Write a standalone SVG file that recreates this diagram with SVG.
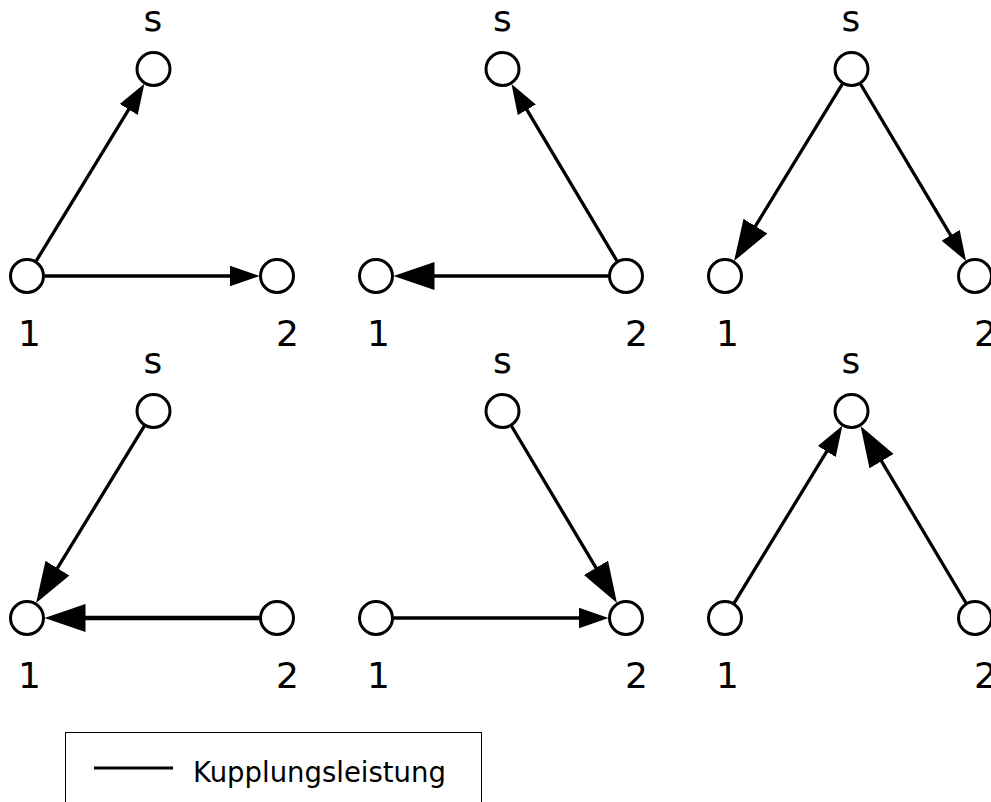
<svg xmlns="http://www.w3.org/2000/svg" width="991" height="802" viewBox="0 0 991 802">
<style>
.node circle{fill:#fff;stroke:#000;stroke-width:3}
.lbl{font-family:"DejaVu Sans","Liberation Sans",sans-serif;font-size:36px;fill:#000;text-anchor:middle}
.edge{stroke:#000;stroke-width:3.3;fill:none}
.sm{marker-end:url(#arrS)}
.lg{marker-end:url(#arrL)}
</style>
<defs>
<marker id="arrS" markerUnits="userSpaceOnUse" viewBox="0 -11 31 22" markerWidth="31" markerHeight="22" refX="3" refY="0" orient="auto"><path d="M0,-10.5 L30,0 L0,10.5 z" fill="#000"/></marker>
<marker id="arrL" markerUnits="userSpaceOnUse" viewBox="0 -14.5 42 29" markerWidth="42" markerHeight="29" refX="3" refY="0" orient="auto"><path d="M0,-14 L41,0 L0,14 z" fill="#000"/></marker>
</defs>
<rect width="991" height="802" fill="#fff"/>
<g id="connectors">
<line class="edge sm" x1="36.1" y1="261.1" x2="130.3" y2="106.9"/>
<line class="edge sm" x1="44.5" y1="276" x2="232.5" y2="276"/>
<line class="edge sm" x1="617" y1="261" x2="525.3" y2="107.2"/>
<line class="edge lg" x1="608.5" y1="276" x2="431.5" y2="276"/>
<line class="edge lg" x1="842.4" y1="83.9" x2="753.9" y2="228.7"/>
<line class="edge sm" x1="860.5" y1="84" x2="952.2" y2="237.8"/>
<line class="edge lg" x1="144.4" y1="425.9" x2="55.9" y2="570.7"/>
<line class="edge lg" x1="259.5" y1="618" x2="82.5" y2="618" style="stroke-width:4.5"/>
<line class="edge lg" x1="511.5" y1="426" x2="597.5" y2="570.4"/>
<line class="edge sm" x1="393.5" y1="618" x2="581.5" y2="618"/>
<line class="edge sm" x1="734.1" y1="603.1" x2="828.3" y2="448.9"/>
<line class="edge lg" x1="966" y1="603" x2="880" y2="458.6"/>
</g>
<g id="p1-s" class="node"><circle cx="153.5" cy="69" r="16.5"/><text class="lbl" x="153" y="31">s</text></g>
<g id="p1-1" class="node"><circle cx="27" cy="276" r="16.5"/><text class="lbl" x="29.5" y="346">1</text></g>
<g id="p1-2" class="node"><circle cx="277" cy="276" r="16.5"/><text class="lbl" x="287.5" y="346">2</text></g>
<g id="p2-s" class="node"><circle cx="502.5" cy="69" r="16.5"/><text class="lbl" x="502.5" y="31">s</text></g>
<g id="p2-1" class="node"><circle cx="376" cy="276" r="16.5"/><text class="lbl" x="378.5" y="346">1</text></g>
<g id="p2-2" class="node"><circle cx="626" cy="276" r="16.5"/><text class="lbl" x="636.5" y="346">2</text></g>
<g id="p3-s" class="node"><circle cx="851.5" cy="69" r="16.5"/><text class="lbl" x="851" y="31">s</text></g>
<g id="p3-1" class="node"><circle cx="725" cy="276" r="16.5"/><text class="lbl" x="727.5" y="346">1</text></g>
<g id="p3-2" class="node"><circle cx="975" cy="276" r="16.5"/><text class="lbl" x="985.5" y="346">2</text></g>
<g id="p4-s" class="node"><circle cx="153.5" cy="411" r="16.5"/><text class="lbl" x="153" y="373">s</text></g>
<g id="p4-1" class="node"><circle cx="27" cy="618" r="16.5"/><text class="lbl" x="29.5" y="688">1</text></g>
<g id="p4-2" class="node"><circle cx="277" cy="618" r="16.5"/><text class="lbl" x="287.5" y="688">2</text></g>
<g id="p5-s" class="node"><circle cx="502.5" cy="411" r="16.5"/><text class="lbl" x="502.5" y="373">s</text></g>
<g id="p5-1" class="node"><circle cx="376" cy="618" r="16.5"/><text class="lbl" x="378.5" y="688">1</text></g>
<g id="p5-2" class="node"><circle cx="626" cy="618" r="16.5"/><text class="lbl" x="636.5" y="688">2</text></g>
<g id="p6-s" class="node"><circle cx="851.5" cy="411" r="16.5"/><text class="lbl" x="851" y="373">s</text></g>
<g id="p6-1" class="node"><circle cx="725" cy="618" r="16.5"/><text class="lbl" x="727.5" y="688">1</text></g>
<g id="p6-2" class="node"><circle cx="975" cy="618" r="16.5"/><text class="lbl" x="985.5" y="688">2</text></g>
<g id="legend">
<rect x="65.5" y="732.5" width="416" height="100" fill="#fff" stroke="#000" stroke-width="1"/>
<line x1="94" y1="768" x2="173" y2="768" stroke="#000" stroke-width="3"/>
<text x="193" y="782" font-family="DejaVu Sans, Liberation Sans, sans-serif" font-size="27.5" fill="#000">Kupplungsleistung</text>
</g>
</svg>
